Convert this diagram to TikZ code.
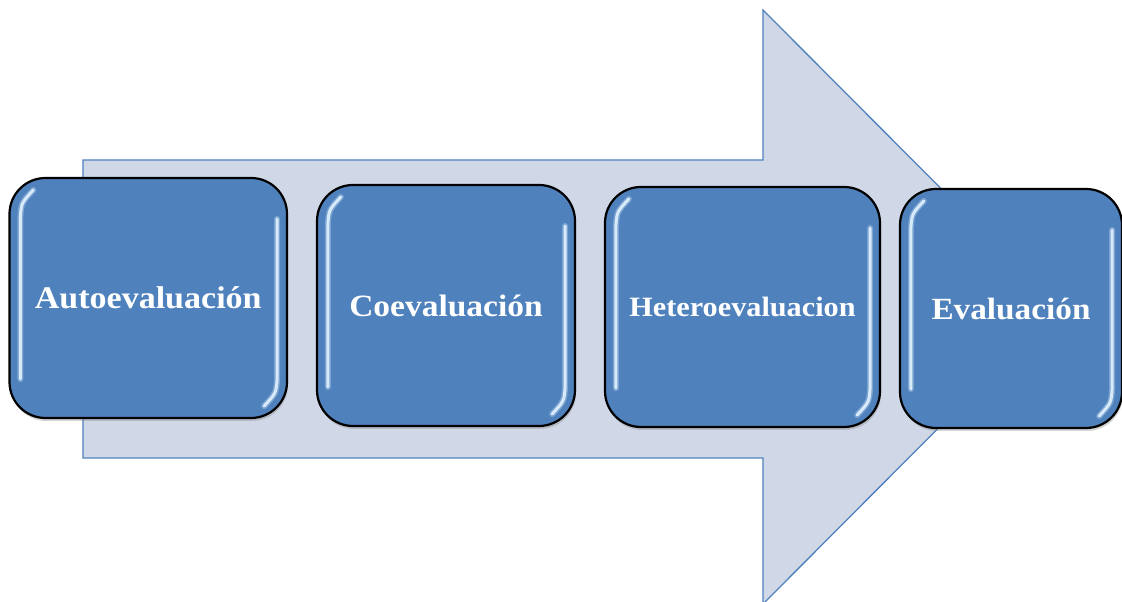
\documentclass[tikz,border=0pt]{standalone}
\usepackage{fontspec}
\newfontfamily\boxfont[FakeStretch=1.08]{Liberation Serif}
\usetikzlibrary{shadows}
\definecolor{boxblue}{RGB}{79,129,189}
\definecolor{arrowfill}{RGB}{208,216,232}
\definecolor{arrowline}{RGB}{79,129,189}
\definecolor{glint}{RGB}{225,242,255}
\tikzset{
  stepbox/.style={draw=black, line width=2.2pt, fill=boxblue, rounded corners=36pt,
    drop shadow={opacity=0.35, shadow xshift=1pt, shadow yshift=-3pt},
    text=white, font=\boxfont\bfseries, align=center, inner sep=0pt},
  glintglow/.style={draw=glint, line width=6pt, line cap=round, opacity=0.3},
  glintline/.style={draw=glint, line width=3pt, line cap=round, opacity=0.9},
  bigarrow/.style={draw=arrowline, line width=1.3pt, fill=arrowfill, line join=miter}
}
\newcommand{\glints}[1]{%
  \foreach \gs in {glintglow,glintline}{
  \draw[\gs] ([xshift=12pt,yshift=40pt]#1.south west) -- ([xshift=12pt,yshift=-40pt]#1.north west)
     .. controls ([xshift=13pt,yshift=-26pt]#1.north west) .. ([xshift=25pt,yshift=-13pt]#1.north west);
  \draw[\gs] ([xshift=-11pt,yshift=-42pt]#1.north east) -- ([xshift=-11pt,yshift=40pt]#1.south east)
     .. controls ([xshift=-12pt,yshift=26pt]#1.south east) .. ([xshift=-24pt,yshift=13pt]#1.south east);
  }}
\begin{document}
\begin{tikzpicture}[x=1pt,y=1pt]
\useasboundingbox (0,0) rectangle (1122,602);
% big arrow
\draw[bigarrow] (83,442) -- (763,442) -- (763,592) -- (1059,295) -- (763,-2) -- (763,144) -- (83,144) -- cycle;
% boxes
\node[stepbox, minimum width=277.5pt, minimum height=240pt] (b1) at (148.25,304)
  {\fontsize{31.5}{36}\selectfont Autoevaluación};
\node[stepbox, minimum width=258pt, minimum height=241pt] (b2) at (446,296.5)
  {\fontsize{31}{36}\selectfont Coevaluación};
\node[stepbox, minimum width=275pt, minimum height=240pt] (b3) at (742.5,295)
  {\fontsize{28}{34}\selectfont Heteroevaluacion};
\node[stepbox, minimum width=222pt, minimum height=239pt] (b4) at (1011,293.5)
  {\fontsize{30.8}{36}\selectfont Evaluación};
% glossy highlights
\glints{b1}\glints{b2}\glints{b3}\glints{b4}
\end{tikzpicture}
\end{document}
